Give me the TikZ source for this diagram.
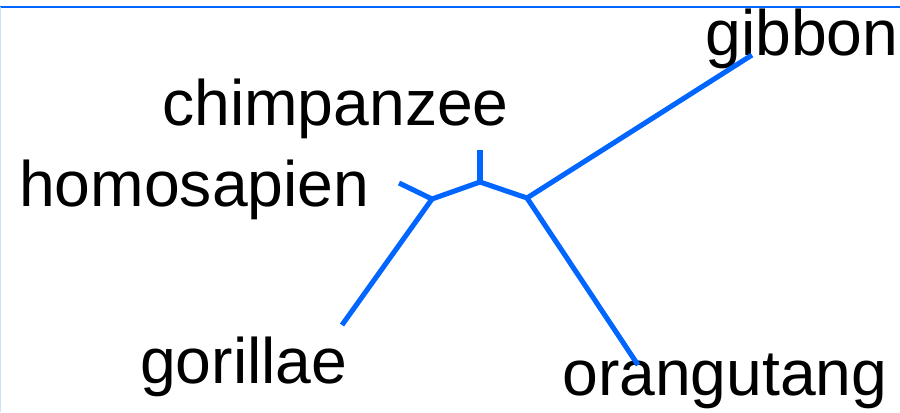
\documentclass[tikz,border=0pt]{standalone}
\usepackage{fontspec}
\setmainfont{Liberation Sans}
\usepackage{tikz}
\usetikzlibrary{positioning}

\definecolor{treeblue}{HTML}{0066FF}

\begin{document}
\begin{tikzpicture}[x=0.75pt, y=-0.75pt,
  taxon/.style={anchor=base west, inner sep=0pt, font=\fontsize{48.2}{50}\selectfont},
  branch/.style={draw=treeblue, line width=3.8pt, line cap=butt, line join=miter}]
  \useasboundingbox (0,0) rectangle (900,412);
  % frame edges
  \draw[treeblue, line width=1.3pt] (0,7) -- (900,7);
  \draw[treeblue!20, line width=1pt] (0.5,7) -- (0.5,412);

  % leaf labels
  \node[taxon] (gibbon) at (705,55) {gibbon};
  \node[taxon] (chimp) at (162,125) {chimpanzee};
  \node[taxon] (homo) at (19,206) {homosapien};
  \node[taxon] (gorilla) at (140,383) {gorillae};
  \node[taxon] (orang) at (562,395) {orangutang};

  % tips and inner nodes of the tree
  \coordinate (tGibbon) at (752,55);
  \coordinate (tChimp) at (480,150);
  \coordinate (tHomo) at (399,183);
  \coordinate (tGorilla) at (342,325);
  \coordinate (tOrang) at (638,365);
  \coordinate (jLeft) at (432,199);
  \coordinate (jMid) at (480,182);
  \coordinate (jRight) at (527,198);

  \draw[branch] (tGibbon) -- (jRight) -- (tOrang);
  \draw[branch] (jRight) -- (jMid) -- (jLeft);
  \draw[branch] (tChimp) -- (jMid);
  \draw[branch] (tHomo) -- (jLeft) -- (tGorilla);
\end{tikzpicture}
\end{document}
